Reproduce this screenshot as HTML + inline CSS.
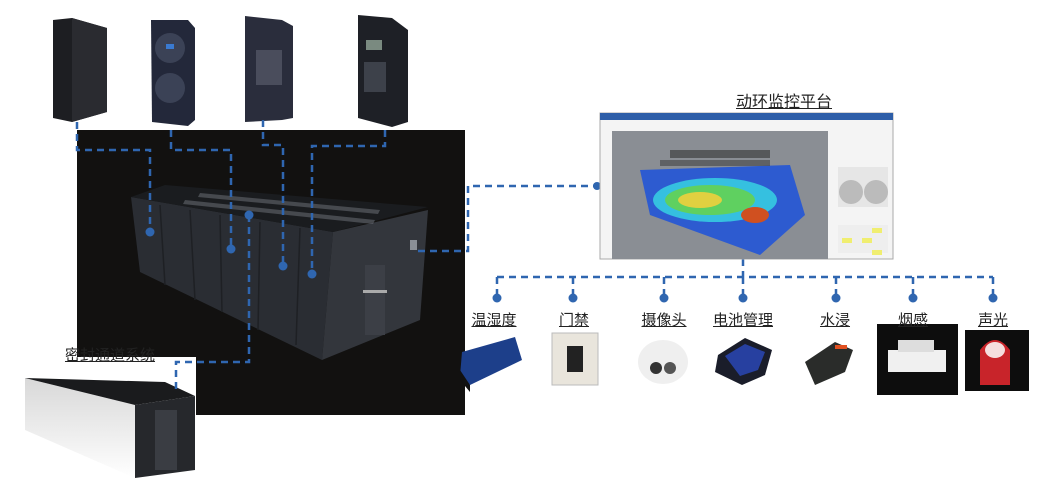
<!DOCTYPE html><html><head><meta charset="utf-8"><style>
body{margin:0;width:1046px;height:482px;background:#fff;position:relative;overflow:hidden;font-family:"Liberation Sans","Noto Sans CJK SC",sans-serif}
.a{position:absolute}
.lbl{position:absolute;font-size:15px;color:#222;text-decoration:underline;transform:translateX(-50%);white-space:nowrap;line-height:16px}
</style></head><body>
<div class="a" style="left:77px;top:130px;width:388px;height:285px;background:#121110"></div>
<div class="a" style="left:77px;top:357px;width:119px;height:60px;background:#fff"></div>
<svg class="a" style="left:0;top:0" width="1046" height="482">
<defs><linearGradient id="wg" x1="0" y1="0" x2="0" y2="1"><stop offset="0" stop-color="#d8d8d8"/><stop offset="1" stop-color="#fff"/></linearGradient></defs>
<!-- cabinets -->
<polygon points="53,20 72,18 107,28 107,112 72,122 53,118" fill="#1d1e22"/><polygon points="72,18 107,28 107,112 72,122" fill="#2a2b30"/>
<polygon points="151,20 188,20 195,28 195,120 188,126 152,122" fill="#23283a"/>
<circle cx="170" cy="48" r="15" fill="#3b4256"/><circle cx="170" cy="88" r="15" fill="#3b4256"/><rect x="166" y="44" width="8" height="5" fill="#3a7ad0"/>
<polygon points="245,16 282,20 293,26 293,118 282,120 245,122" fill="#2a2d3c"/><rect x="256" y="50" width="26" height="35" fill="#4a4d5c"/>
<polygon points="358,15 392,18 408,30 408,122 392,127 358,118" fill="#1e2026"/><rect x="366" y="40" width="16" height="10" fill="#7a8a80"/><rect x="364" y="62" width="22" height="30" fill="#3d414a"/>
<!-- container -->
<polygon points="131,197 333,232 322,360 140,272" fill="#2a2d33"/>
<polygon points="333,232 428,210 420,320 322,360" fill="#33363c"/>
<polygon points="131,197 165,185 428,207 333,232" fill="#1a1c1f"/>
<g fill="#6a6e76" opacity=".55"><polygon points="200,193 380,210 378,214 198,197"/><polygon points="185,200 375,220 373,224 183,204"/></g>
<g stroke="#1e2024" stroke-width="1.5"><path d="M160,205L165,285M190,210L195,300M220,215L222,312M260,222L258,330M300,228L296,345"/></g>
<rect x="365" y="265" width="20" height="70" fill="#3c3f46"/><rect x="363" y="290" width="24" height="3" fill="#aaa"/><rect x="410" y="240" width="7" height="10" fill="#8a8f96"/>
<!-- sealed aisle -->
<polygon points="25,378 135,405 135,478 25,430" fill="url(#wg)"/>
<polygon points="25,378 165,382 195,396 135,405" fill="#1a1b1d"/>
<polygon points="135,405 195,396 195,470 135,478" fill="#26282c"/>
<rect x="155" y="410" width="22" height="60" fill="#3a3d43"/>
<!-- dashed connectors -->
<g stroke="#2f66b0" stroke-width="2.5" fill="none" stroke-dasharray="7,5">
<path d="M77,122V150H150V232"/><path d="M171,130V150H231V249"/><path d="M263,120V145H283V266"/><path d="M385,130V146H312V274"/>
<path d="M249,215V362H176V392"/>
<path d="M418,251H468V186H598"/>
<path d="M743,259V277"/><path d="M497,277H993"/>
<path d="M497,277V298M573,277V298M664,277V298M743,277V298M836,277V298M913,277V298M993,277V298"/>
</g>
<g fill="#2f66b0"><circle cx="150" cy="232" r="4.5"/><circle cx="231" cy="249" r="4.5"/><circle cx="283" cy="266" r="4.5"/><circle cx="312" cy="274" r="4.5"/><circle cx="249" cy="215" r="4.5"/>
<circle cx="597" cy="186" r="4"/>
<circle cx="497" cy="298" r="4.5"/><circle cx="573" cy="298" r="4.5"/><circle cx="664" cy="298" r="4.5"/><circle cx="743" cy="298" r="4.5"/><circle cx="836" cy="298" r="4.5"/><circle cx="913" cy="298" r="4.5"/><circle cx="993" cy="298" r="4.5"/></g>
<!-- screen -->
<rect x="600" y="113" width="293" height="146" fill="#f4f4f4" stroke="#aaa"/>
<rect x="600" y="113" width="293" height="7" fill="#2e5ea8"/>
<rect x="612" y="131" width="216" height="128" fill="#8a8e94"/>
<polygon points="640,170 790,165 805,215 760,255 650,215" fill="#2d5bd0"/>
<ellipse cx="715" cy="200" rx="62" ry="22" fill="#35c0e0"/><ellipse cx="710" cy="200" rx="45" ry="15" fill="#5fd060"/><ellipse cx="700" cy="200" rx="22" ry="8" fill="#e0d040"/><ellipse cx="755" cy="215" rx="14" ry="8" fill="#d05020"/>
<g fill="#333"><rect x="670" y="150" width="100" height="8" opacity=".6"/><rect x="660" y="160" width="110" height="6" opacity=".5"/></g>
<rect x="838" y="167" width="50" height="40" fill="#e6e6e6"/><circle cx="851" cy="192" r="12" fill="#bbb"/><circle cx="876" cy="192" r="12" fill="#bbb"/>
<rect x="838" y="225" width="50" height="28" fill="#eee"/><g fill="#f0ee70"><rect x="842" y="238" width="10" height="5"/><rect x="862" y="238" width="10" height="5"/><rect x="872" y="228" width="10" height="5"/><rect x="872" y="250" width="10" height="5"/></g>
<!-- device images -->
<polygon points="462,352 515,337 522,360 470,385 460,376" fill="#1d3f8a"/><polygon points="460,370 470,385 470,392 460,380" fill="#111"/>
<rect x="552" y="333" width="46" height="52" fill="#e9e5dc" stroke="#bbb"/><rect x="567" y="346" width="16" height="26" fill="#222"/>
<ellipse cx="663" cy="362" rx="25" ry="22" fill="#efefef"/><circle cx="656" cy="368" r="6" fill="#333"/><circle cx="670" cy="368" r="6" fill="#555"/>
<polygon points="718,355 745,338 772,350 765,375 742,385 715,372" fill="#1a1d2a"/><polygon points="725,356 745,344 765,352 758,370 740,376" fill="#2740a0"/>
<polygon points="805,362 835,342 853,350 845,372 815,385" fill="#2a2c2a"/><rect x="835" y="345" width="12" height="4" fill="#e05020"/>
<rect x="877" y="324" width="81" height="71" fill="#0d0d0d"/><rect x="888" y="350" width="58" height="22" fill="#f0f0f0"/><rect x="898" y="340" width="36" height="12" fill="#ddd"/>
<rect x="965" y="330" width="64" height="61" fill="#0d0d0d"/><path d="M980,385V350Q995,330 1010,350V385Z" fill="#c8242a"/><ellipse cx="995" cy="350" rx="10" ry="8" fill="#f5dede"/>
</svg>
<div class="lbl" style="left:110px;top:348px">密封通道系统</div>
<div class="lbl" style="left:784px;top:95px;font-size:16px">动环监控平台</div>
<div class="lbl" style="left:494px;top:313px">温湿度</div>
<div class="lbl" style="left:574px;top:313px">门禁</div>
<div class="lbl" style="left:664px;top:313px">摄像头</div>
<div class="lbl" style="left:743px;top:313px">电池管理</div>
<div class="lbl" style="left:835px;top:313px">水浸</div>
<div class="lbl" style="left:913px;top:313px">烟感</div>
<div class="lbl" style="left:993px;top:313px">声光</div>
</body></html>
